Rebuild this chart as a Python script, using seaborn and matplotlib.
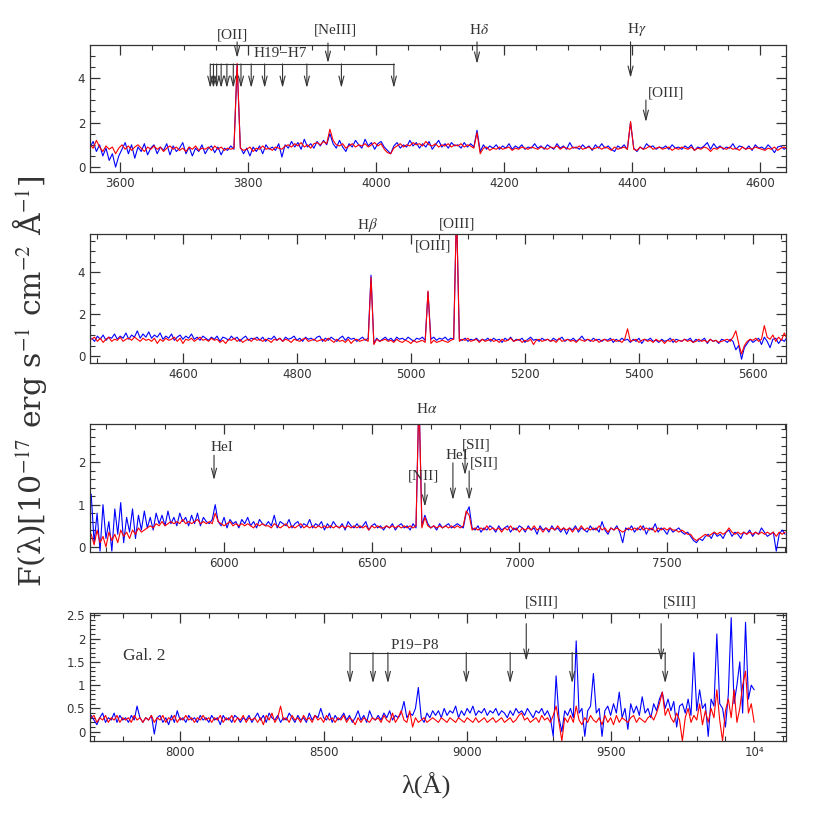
import numpy as np
import matplotlib
matplotlib.use("Agg")
import matplotlib.pyplot as plt
import seaborn as sns
from matplotlib.ticker import MultipleLocator, FuncFormatter

# ---------------- data ----------------
# Panel 1: flux sampled every 5 A starting at 3553 A
p1_start, p1_step = 3553, 5
p1_blue = [
    0.9, 1.15, 0.7, 1.0, 0.5, 0.85, 0.3, 0.6, 0.0, 0.5, 0.8, 1.1, 0.6, 1.0, 0.4, 0.9, 0.7, 1.05, 0.55, 0.85,
    1.0, 0.6, 0.9, 0.75, 1.05, 0.55, 0.95, 0.7, 0.85, 1.1, 0.6, 0.9, 0.5, 0.85, 0.7, 1.0, 0.6, 0.85, 0.95, 0.65,
    0.9, 0.55, 0.85, 0.75, 0.95, 0.8, 4.6, 0.9, 0.6, 0.85, 0.5, 0.9, 0.7, 0.95, 0.6, 1.0, 0.8, 0.9, 0.75, 1.05,
    0.45, 1.0, 0.85, 1.15, 0.9, 1.1, 0.8, 1.25, 0.9, 1.05, 0.85, 1.15, 0.95, 1.2, 1.0, 1.5, 1.05, 0.85, 1.2, 0.9,
    0.7, 1.05, 0.9, 1.2, 1.0, 0.85, 1.25, 0.95, 1.1, 0.8, 1.05, 1.15, 0.9, 0.75, 0.6, 0.95, 1.1, 0.85, 1.0, 0.9,
    1.2, 0.95, 1.1, 0.85, 1.05, 0.9, 1.15, 0.8, 1.0, 1.2, 0.9, 1.05, 0.85, 1.1, 0.95, 1.0, 0.85, 1.1, 0.9, 1.05,
    0.9, 1.65, 0.7, 1.0, 0.8, 0.95, 0.85, 1.0, 0.8, 0.95, 0.85, 1.05, 0.8, 0.95, 0.85, 1.0, 0.8, 0.9, 0.85, 1.05,
    0.85, 0.95, 0.8, 1.0, 0.9, 0.8, 1.05, 0.85, 0.95, 0.8, 1.1, 0.85, 0.9, 0.8, 1.0, 0.85, 0.95, 0.75, 1.0, 0.85,
    1.05, 0.85, 0.95, 0.8, 0.7, 0.95, 0.85, 1.0, 0.8, 2.0, 0.85, 0.7, 0.9, 0.8, 1.05, 0.9, 0.95, 0.8, 0.9, 0.85,
    0.95, 0.8, 1.0, 0.85, 0.9, 0.8, 0.95, 0.85, 1.0, 0.75, 0.9, 0.85, 0.95, 1.1, 0.8, 1.05, 0.85, 0.95, 0.8, 0.9,
    0.85, 1.05, 0.8, 0.95, 0.9, 0.8, 0.95, 0.75, 1.0, 0.85, 0.9, 0.8, 1.0, 0.85, 0.65, 0.9, 0.95, 0.8, 0.9]
p1_red = [
    1.0, 0.85, 1.2, 0.9, 0.7, 0.95, 0.8, 0.9, 0.6, 0.85, 1.0, 0.8, 0.95, 0.75, 0.9, 1.0, 0.85, 0.7, 0.9, 0.8,
    0.95, 0.8, 0.9, 0.7, 0.85, 0.95, 0.8, 0.9, 0.75, 0.85, 0.7, 0.9, 0.8, 0.95, 0.75, 0.85, 0.8, 0.9, 0.75, 0.95,
    0.8, 0.9, 0.75, 0.85, 0.8, 0.85, 4.65, 0.85, 0.75, 0.8, 0.9, 0.7, 0.85, 0.8, 0.95, 0.8, 0.85, 0.75, 0.9, 0.85,
    0.8, 0.95, 1.0, 0.9, 1.05, 0.95, 1.1, 0.9, 1.0, 0.85, 1.05, 1.1, 1.0, 1.15, 1.05, 1.7, 1.2, 1.0, 0.95, 1.05,
    0.85, 0.95, 1.05, 0.9, 1.0, 0.95, 1.05, 0.9, 1.0, 1.1, 0.95, 1.05, 0.8, 0.65, 0.6, 0.85, 0.95, 1.05, 0.9, 1.0,
    0.95, 1.1, 1.0, 1.05, 0.95, 1.15, 1.0, 0.95, 1.05, 0.9, 1.0, 0.95, 1.05, 0.9, 1.0, 0.95, 1.05, 0.9, 1.0, 0.95,
    0.85, 1.55, 0.6, 0.85, 0.9, 0.75, 0.85, 0.8, 0.9, 0.8, 0.85, 0.9, 0.75, 0.85, 0.8, 0.9, 0.85, 0.8, 0.9, 0.85,
    0.8, 0.9, 0.85, 0.8, 0.9, 0.85, 0.95, 0.8, 0.9, 0.85, 0.8, 0.9, 0.85, 0.95, 0.8, 0.85, 0.9, 0.8, 0.85, 0.9,
    0.8, 0.9, 0.85, 0.75, 0.9, 0.8, 0.85, 0.9, 0.8, 2.05, 0.8, 0.75, 0.9, 0.8, 0.85, 0.95, 0.8, 0.85, 0.9, 0.8,
    0.85, 0.9, 0.75, 0.85, 0.8, 0.9, 0.85, 0.8, 0.9, 0.75, 0.85, 0.8, 0.9, 0.85, 0.7, 0.85, 0.8, 0.9, 0.85, 0.8,
    0.9, 0.8, 0.85, 0.75, 0.9, 0.8, 0.85, 0.8, 0.9, 0.85, 0.8, 0.75, 0.85, 0.8, 0.9, 0.75, 0.85, 0.9, 0.8]

# Panel 2: every 5 A starting at 4440 A
p2_start, p2_step = 4440, 5
p2_blue = [
    0.85, 0.7, 0.95, 0.8, 1.0, 0.75, 0.9, 0.85, 1.05, 0.8, 0.95, 0.85, 1.1, 0.8, 1.0, 0.9, 1.2, 0.85, 1.05, 0.9,
    1.15, 0.85, 1.0, 0.9, 1.1, 0.8, 0.95, 0.85, 1.05, 0.75, 0.9, 1.0, 0.8, 0.95, 0.85, 1.05, 0.8, 0.9, 0.75, 0.95,
    0.85, 0.75, 0.9, 0.8, 0.95, 0.7, 0.9, 0.85, 0.75, 0.95, 0.8, 0.9, 0.7, 0.85, 0.95, 0.75, 0.85, 0.8, 0.9, 0.75,
    0.9, 0.7, 0.85, 0.8, 0.95, 0.75, 0.85, 0.7, 0.9, 0.8, 0.85, 0.95, 0.75, 0.85, 0.7, 0.9, 0.8, 0.85, 0.75, 0.9,
    0.95, 0.7, 0.85, 0.75, 0.9, 0.8, 0.7, 0.85, 0.95, 0.75, 0.9, 0.8, 0.85, 0.7, 0.8, 0.9, 0.75, 0.85, 3.85, 0.6,
    0.85, 0.7, 0.8, 0.9, 0.75, 0.85, 0.7, 0.9, 0.8, 0.85, 0.75, 0.9, 0.8, 0.7, 0.85, 0.8, 0.9, 0.75, 3.05, 0.8,
    0.9, 0.75, 0.85, 0.8, 0.9, 0.75, 0.85, 0.8, 7.0, 0.8, 0.75, 0.85, 0.7, 0.8, 0.75, 0.85, 0.7, 0.8, 0.75, 0.85,
    0.7, 0.85, 0.75, 0.8, 0.65, 0.85, 0.75, 0.9, 0.7, 0.8, 0.75, 0.85, 0.65, 0.8, 0.9, 0.75, 0.8, 0.7, 0.85, 0.75,
    0.8, 0.7, 0.85, 0.75, 0.8, 0.9, 0.7, 0.8, 0.75, 0.85, 0.7, 0.8, 0.95, 0.75, 0.8, 0.7, 0.85, 0.75, 0.8, 0.7,
    0.8, 0.75, 0.85, 0.65, 0.8, 0.7, 0.85, 0.75, 0.8, 0.65, 0.8, 0.7, 0.85, 0.6, 0.8, 0.75, 0.85, 0.7, 0.75, 0.65,
    0.8, 0.7, 0.75, 0.85, 0.65, 0.8, 0.75, 0.7, 0.8, 0.75, 0.85, 0.65, 0.8, 0.7, 0.75, 0.85, 0.6, 0.8, 0.7, 0.75,
    0.6, 0.8, 0.75, 0.65, 0.8, 0.7, 0.3, 0.5, -0.15, 0.4, 0.6, 0.8, 0.65, 0.75, 0.85, 0.55, 0.9, 0.7, 0.4, 0.8,
    0.85, 0.6, 0.8, 0.7, 0.9]
p2_red = [
    0.8, 0.9, 0.7, 0.85, 0.65, 0.8, 0.9, 0.7, 0.8, 0.75, 0.9, 0.7, 0.8, 0.85, 0.75, 0.9, 0.8, 0.7, 0.85, 0.75,
    0.8, 0.7, 0.85, 0.6, 0.8, 0.7, 0.85, 0.75, 0.8, 0.9, 0.7, 0.85, 0.6, 0.8, 0.75, 0.85, 0.7, 0.8, 0.9, 0.75,
    0.8, 0.7, 0.85, 0.75, 0.8, 0.65, 0.75, 0.6, 0.8, 0.75, 0.85, 0.7, 0.8, 0.65, 0.75, 0.8, 0.7, 0.85, 0.75, 0.8,
    0.7, 0.8, 0.75, 0.65, 0.8, 0.75, 0.85, 0.7, 0.8, 0.75, 0.65, 0.8, 0.75, 0.7, 0.8, 0.85, 0.7, 0.75, 0.8, 0.7,
    0.75, 0.8, 0.7, 0.85, 0.75, 0.65, 0.8, 0.7, 0.75, 0.65, 0.8, 0.6, 0.75, 0.8, 0.7, 0.75, 0.8, 0.7, 3.75, 0.55,
    0.8, 0.7, 0.75, 0.8, 0.7, 0.75, 0.65, 0.8, 0.7, 0.65, 0.75, 0.7, 0.6, 0.75, 0.65, 0.7, 0.75, 0.65, 3.1, 0.6,
    0.75, 0.65, 0.7, 0.75, 0.7, 0.65, 0.75, 0.8, 7.0, 0.7, 0.8, 0.75, 0.85, 0.7, 0.75, 0.8, 0.65, 0.8, 0.7, 0.75,
    0.8, 0.7, 0.75, 0.65, 0.8, 0.7, 0.75, 0.85, 0.7, 0.75, 0.8, 0.65, 0.75, 0.7, 0.8, 0.55, 0.75, 0.8, 0.7, 0.75,
    0.8, 0.7, 0.75, 0.65, 0.85, 0.7, 0.75, 0.8, 0.7, 0.75, 0.65, 0.8, 0.75, 0.7, 0.8, 0.75, 0.7, 0.8, 0.65, 0.75,
    0.8, 0.7, 0.75, 0.8, 0.7, 0.75, 0.65, 0.8, 1.3, 0.7, 0.75, 0.8, 0.65, 0.75, 0.8, 0.7, 0.75, 0.65, 0.8, 0.7,
    0.75, 0.6, 0.75, 0.7, 0.8, 0.65, 0.75, 0.7, 0.8, 0.7, 0.75, 0.65, 0.7, 0.8, 0.7, 0.75, 0.65, 0.8, 0.7, 0.75,
    0.65, 0.7, 0.75, 0.8, 0.7, 0.9, 1.2, 0.6, 0.1, 0.5, 0.7, 0.8, 0.75, 0.85, 0.7, 0.8, 1.45, 0.9, 0.8, 1.0,
    0.7, 0.9, 0.75, 1.1, 0.8]

# Panel 3: every 10 A starting at 5550 A
p3_start, p3_step = 5550, 10
p3_blue = [
    1.25, 0.1, 0.8, -0.1, 1.0, 0.2, 0.6, -0.1, 0.9, 0.3, 1.05, 0.1, 0.7, 0.35, 0.9, 0.2, 0.75, 0.4, 0.85, 0.45,
    0.7, 0.4, 0.8, 0.55, 0.75, 0.5, 0.85, 0.55, 0.7, 0.5, 0.8, 0.6, 0.7, 0.5, 0.75, 0.55, 0.8, 0.5, 0.7, 0.6,
    0.55, 0.65, 1.0, 0.6, 0.5, 0.7, 0.45, 0.65, 0.55, 0.6, 0.45, 0.65, 0.55, 0.7, 0.5, 0.6, 0.45, 0.65, 0.55, 0.5,
    0.6, 0.5, 0.75, 0.45, 0.6, 0.55, 0.5, 0.65, 0.45, 0.55, 0.6, 0.45, 0.55, 0.5, 0.65, 0.45, 0.55, 0.5, 0.6, 0.4,
    0.55, 0.45, 0.6, 0.5, 0.45, 0.55, 0.4, 0.6, 0.5, 0.45, 0.55, 0.45, 0.5, 0.6, 0.4, 0.5, 0.55, 0.45, 0.5, 0.4,
    0.5, 0.45, 0.55, 0.4, 0.5, 0.55, 0.45, 0.5, 0.4, 0.55, 0.45, 3.6, 0.5, 0.75, 0.55, 0.45, 0.5, 0.4, 0.55, 0.45,
    0.5, 0.55, 0.45, 0.5, 0.55, 0.5, 0.45, 0.8, 0.95, 0.45, 0.4, 0.5, 0.35, 0.45, 0.4, 0.5, 0.45, 0.35, 0.5, 0.4,
    0.45, 0.5, 0.35, 0.45, 0.4, 0.5, 0.45, 0.35, 0.5, 0.4, 0.45, 0.3, 0.5, 0.4, 0.45, 0.35, 0.5, 0.4, 0.45, 0.35,
    0.45, 0.3, 0.45, 0.4, 0.5, 0.35, 0.45, 0.4, 0.35, 0.5, 0.4, 0.45, 0.35, 0.6, 0.4, 0.3, 0.45, 0.4, 0.5, 0.35,
    0.1, 0.45, 0.4, 0.5, 0.35, 0.45, 0.4, 0.5, 0.3, 0.45, 0.4, 0.55, 0.35, 0.45, 0.4, 0.3, 0.45, 0.35, 0.4, 0.45,
    0.35, 0.3, 0.35, 0.25, 0.15, 0.1, 0.2, 0.15, 0.25, 0.3, 0.2, 0.35, 0.25, 0.3, 0.2, 0.35, 0.4, 0.25, 0.35, 0.3,
    0.2, 0.35, 0.3, 0.4, 0.25, 0.35, 0.3, 0.45, 0.35, 0.25, 0.3, 0.35, -0.1, 0.3, 0.4, 0.3]
p3_red = [
    0.3, 0.05, 0.4, 0.1, 0.25, 0.0, 0.35, 0.15, 0.3, 0.1, 0.4, 0.25, 0.35, 0.2, 0.4, 0.3, 0.45, 0.35, 0.4, 0.45,
    0.5, 0.45, 0.55, 0.5, 0.6, 0.5, 0.55, 0.6, 0.55, 0.6, 0.55, 0.65, 0.55, 0.6, 0.55, 0.6, 0.65, 0.55, 0.6, 0.55,
    0.6, 0.55, 0.8, 0.6, 0.55, 0.5, 0.55, 0.6, 0.5, 0.55, 0.5, 0.55, 0.5, 0.55, 0.5, 0.45, 0.55, 0.5, 0.55, 0.5,
    0.5, 0.45, 0.55, 0.5, 0.45, 0.5, 0.55, 0.45, 0.5, 0.45, 0.5, 0.55, 0.45, 0.5, 0.45, 0.5, 0.45, 0.5, 0.45, 0.5,
    0.45, 0.5, 0.45, 0.5, 0.45, 0.5, 0.45, 0.5, 0.45, 0.5, 0.45, 0.5, 0.45, 0.5, 0.4, 0.5, 0.45, 0.5, 0.45, 0.45,
    0.5, 0.45, 0.5, 0.45, 0.5, 0.45, 0.5, 0.45, 0.5, 0.45, 0.5, 3.6, 0.45, 0.7, 0.5, 0.45, 0.5, 0.45, 0.5, 0.45,
    0.5, 0.45, 0.5, 0.45, 0.5, 0.45, 0.5, 0.85, 0.75, 0.4, 0.45, 0.4, 0.45, 0.4, 0.5, 0.4, 0.45, 0.4, 0.45, 0.35,
    0.45, 0.4, 0.5, 0.4, 0.45, 0.35, 0.45, 0.4, 0.45, 0.4, 0.5, 0.4, 0.45, 0.35, 0.45, 0.4, 0.45, 0.4, 0.5, 0.4,
    0.45, 0.4, 0.45, 0.35, 0.45, 0.4, 0.5, 0.4, 0.45, 0.4, 0.45, 0.4, 0.5, 0.4, 0.45, 0.35, 0.45, 0.4, 0.45, 0.4,
    0.35, 0.4, 0.45, 0.4, 0.45, 0.4, 0.5, 0.4, 0.45, 0.4, 0.45, 0.35, 0.45, 0.4, 0.45, 0.4, 0.45, 0.4, 0.4, 0.35,
    0.4, 0.35, 0.3, 0.3, 0.2, 0.15, 0.2, 0.25, 0.3, 0.25, 0.3, 0.35, 0.3, 0.35, 0.3, 0.35, 0.45, 0.35, 0.3, 0.35,
    0.3, 0.35, 0.3, 0.35, 0.3, 0.35, 0.3, 0.35, 0.3, 0.35, 0.3, 0.35, 0.25, 0.35, 0.3, 0.35]

# Panel 4: every 10 A starting at 7690 A
p4_start, p4_step = 7690, 10
p4_blue = [
    0.35, 0.25, 0.15, 0.3, 0.4, 0.2, 0.3, 0.25, 0.4, 0.2, 0.35, 0.25, 0.3, 0.2, 0.35, 0.25, 0.55, 0.3, 0.2, 0.3,
    0.25, 0.35, -0.05, 0.3, 0.35, 0.2, 0.3, 0.15, 0.35, 0.2, 0.45, 0.25, 0.3, 0.2, 0.35, 0.25, 0.3, 0.2, 0.35, 0.25,
    0.3, 0.2, 0.35, 0.25, 0.3, 0.15, 0.35, 0.25, 0.3, 0.2, 0.35, 0.3, 0.2, 0.3, 0.25, 0.35, 0.2, 0.3, 0.4, 0.25,
    0.35, 0.2, 0.4, 0.3, 0.25, 0.35, 0.2, 0.3, 0.25, 0.4, 0.3, 0.2, 0.35, 0.25, 0.3, 0.2, 0.4, 0.25, 0.35, 0.3,
    0.5, 0.3, 0.25, 0.4, 0.2, 0.35, 0.25, 0.3, 0.4, 0.25, 0.35, 0.2, 0.3, 0.45, 0.25, 0.35, 0.2, 0.45, 0.3, 0.25,
    0.35, 0.25, 0.4, 0.3, 0.45, 0.25, 0.35, 0.3, 0.4, 0.65, 0.3, 0.4, 0.35, 0.5, 0.95, 0.3, 0.2, 0.4, 0.3, 0.45,
    0.35, 0.45, 0.3, 0.5, 0.35, 0.45, 0.4, 0.55, 0.3, 0.45, 0.35, 0.5, 0.4, 0.55, 0.35, 0.45, 0.4, 0.5, 0.35, 0.45,
    0.4, 0.5, 0.35, 0.45, 0.4, 0.3, 0.45, 0.35, 0.5, 0.4, 0.45, 0.35, 0.5, 0.4, 0.3, 0.45, 0.4, 0.5, 0.35, 0.45,
    0.3, -0.1, 1.2, 0.3, 0.0, 0.45, 0.35, 0.5, 0.3, 1.95, 0.4, 0.5, -0.1, 0.45, 0.55, 1.25, 0.4, 0.5, -0.1, 0.45,
    0.55, 0.35, 0.6, 0.4, 0.85, 0.3, 0.5, 0.05, 0.6, 0.4, 0.55, 0.35, 0.75, 0.4, 0.5, 0.3, 0.6, 0.45, 0.7, 0.85,
    0.5, 0.7, 0.45, 0.65, 0.1, 0.55, 0.6, 0.4, 0.7, 0.35, 1.7, 0.45, 0.9, 0.5, 0.6, -0.1, 0.7, 0.55, 2.1, 0.6,
    0.5, 0.1, 0.8, 2.45, 0.6, 1.0, 1.5, 0.4, 2.35, 0.7, 1.0, 0.9]
p4_red = [
    0.3, 0.35, 0.2, 0.3, 0.25, 0.35, 0.2, 0.3, 0.25, 0.35, 0.2, 0.3, 0.25, 0.3, 0.2, 0.35, 0.25, 0.3, 0.2, 0.3,
    0.25, 0.35, 0.2, 0.3, 0.25, 0.35, 0.2, 0.3, 0.25, 0.35, 0.2, 0.3, 0.25, 0.35, 0.25, 0.3, 0.2, 0.3, 0.25, 0.35,
    0.25, 0.3, 0.2, 0.3, 0.25, 0.35, 0.2, 0.3, 0.25, 0.35, 0.2, 0.3, 0.25, 0.35, 0.2, 0.3, 0.25, 0.3, 0.2, 0.3,
    0.15, 0.35, 0.25, 0.4, 0.2, 0.3, 0.55, 0.25, 0.3, 0.2, 0.35, 0.25, 0.3, 0.2, 0.35, 0.25, 0.3, 0.2, 0.35, 0.25,
    0.3, 0.2, 0.35, 0.25, 0.3, 0.2, 0.3, 0.25, 0.35, 0.2, 0.3, 0.25, 0.15, 0.3, 0.2, 0.3, 0.25, 0.2, 0.3, 0.25,
    0.3, 0.2, 0.35, 0.25, 0.2, 0.4, 0.2, 0.3, 0.45, 0.25, 0.2, 0.45, 0.1, 0.3, 0.2, 0.25, 0.3, 0.2, 0.25, 0.3,
    0.25, 0.2, 0.3, 0.25, 0.2, 0.3, 0.25, 0.2, 0.3, 0.25, 0.2, 0.3, 0.25, 0.2, 0.3, 0.2, 0.25, 0.3, 0.2, 0.25,
    0.3, 0.2, 0.25, 0.3, 0.2, 0.25, 0.3, 0.2, 0.25, 0.35, 0.4, 0.25, 0.3, 0.2, 0.25, 0.3, 0.2, 0.35, 0.25, 0.3,
    0.2, 0.35, 0.55, 0.2, -0.2, 0.3, 0.2, 0.35, 0.2, 0.55, 0.25, 0.15, 0.3, 0.2, 0.35, 0.25, 0.2, 0.3, 0.15, 0.35,
    0.2, 0.3, 0.15, 0.35, 0.2, 0.3, 0.25, 0.2, 0.3, 0.35, 0.2, 0.3, 0.25, 0.2, 0.3, 0.35, 0.25, 0.4, 0.6, 0.85,
    0.35, 0.5, 0.3, 0.2, 0.4, 0.25, -0.2, 0.3, 0.5, 0.2, 0.35, 0.25, 0.6, 0.15, 0.45, 0.2, 0.5, 0.3, 0.9, 0.25,
    -0.2, 0.45, 0.7, 0.3, 0.9, 0.2, 0.5, 1.0, 1.3, 0.4, 0.6, 0.2]

# axis limits and ticks
xlims = [(3553, 4641), (4437, 5658), (5546, 7903), (7686, 10111)]
ylims = [(-0.22, 5.48), (-0.33, 5.81), (-0.12, 2.91), (-0.2, 2.55)]
xmajor = [200, 200, 500, 500]
xminor = [50, 50, 100, 100]
ymajor = [2, 2, 1, 0.5]
yminor = [0.5, 0.5, 0.2, 0.1]

# ---------------- style ----------------
sns.set_theme(style="ticks")
plt.rcParams["font.family"] = ["Liberation Serif", "DejaVu Serif"]
plt.rcParams["mathtext.fontset"] = "stix"
INK = "#333333"

fig = plt.figure(figsize=(8.3, 8.3), dpi=100)
left, width = 90 / 830, 696 / 830
boxes = [(45, 172), (234, 363), (424, 552), (613, 741)]
axes = [fig.add_axes([left, 1 - b / 830, width, (b - t) / 830]) for t, b in boxes]

panels = [
    (p1_start, p1_step, p1_blue, p1_red),
    (p2_start, p2_step, p2_blue, p2_red),
    (p3_start, p3_step, p3_blue, p3_red),
    (p4_start, p4_step, p4_blue, p4_red),
]

for i, (ax, (s, st, fb, fr)) in enumerate(zip(axes, panels)):
    wb = s + st * np.arange(len(fb))
    wr = s + st * np.arange(len(fr))
    sns.lineplot(x=wb, y=fb, ax=ax, color="#0000ff", linewidth=0.8, sort=False, estimator=None)
    sns.lineplot(x=wr, y=fr, ax=ax, color="#ff0000", linewidth=0.8, sort=False, estimator=None)
    ax.set_xlim(*xlims[i])
    ax.set_ylim(*ylims[i])
    ax.xaxis.set_major_locator(MultipleLocator(xmajor[i]))
    ax.xaxis.set_minor_locator(MultipleLocator(xminor[i]))
    ax.yaxis.set_major_locator(MultipleLocator(ymajor[i]))
    ax.yaxis.set_minor_locator(MultipleLocator(yminor[i]))
    ax.tick_params(which="both", direction="in", top=True, right=True, colors=INK,
                   labelsize=8.5, labelfontfamily="DejaVu Sans")
    ax.tick_params(which="major", length=7, width=0.9)
    ax.tick_params(which="minor", length=3.5, width=0.8)
    for sp in ax.spines.values():
        sp.set_color(INK)
        sp.set_linewidth(0.9)
    ax.set_xlabel("")
    ax.set_ylabel("")

axes[3].xaxis.set_major_formatter(FuncFormatter(lambda v, p: "10⁴" if abs(v - 10000) < 1 else f"{v:.0f}"))
axes[3].yaxis.set_major_formatter(FuncFormatter(lambda v, p: f"{v:g}"))

ARW = dict(arrowstyle="->,head_length=0.7,head_width=0.18", color=INK, lw=0.8,
           shrinkA=0, shrinkB=0, mutation_scale=10)


def arrow(ax, x, y0, y1):
    ax.annotate("", xy=(x, y1), xytext=(x, y0), arrowprops=ARW, annotation_clip=False)


def label(ax, x, y, s, size=11, ha="center"):
    ax.text(x, y, s, ha=ha, va="center", fontsize=size, color=INK, clip_on=False)


# panel 1 annotations
a = axes[0]
label(a, 3775, 5.93, "[OII]"); arrow(a, 3783, 5.62, 4.9)
label(a, 3936, 6.16, "[NeIII]"); arrow(a, 3925, 5.57, 4.67)
label(a, 4161, 6.16, r"H$\delta$"); arrow(a, 4158, 5.62, 4.63)
label(a, 4408, 6.16, r"H$\gamma$"); arrow(a, 4398, 5.62, 4.0)
label(a, 4453, 3.33, "[OIII]"); arrow(a, 4422, 3.01, 2.02)
h_series = [3741, 3746, 3751, 3758, 3767, 3777, 3789, 3805, 3826, 3854, 3892, 3946, 4028]
a.plot([h_series[0], h_series[-1]], [4.63, 4.63], color=INK, lw=0.8)
for x in h_series:
    arrow(a, x, 4.63, 3.55)
label(a, 3850, 5.08, "H19−H7")

# panel 2
a = axes[1]
label(a, 4923, 6.24, r"H$\beta$")
label(a, 5039, 5.24, "[OIII]")
label(a, 5081, 6.29, "[OIII]")

# panel 3
a = axes[2]
label(a, 5993, 2.36, "HeI"); arrow(a, 5966, 2.17, 1.58)
label(a, 6687, 3.26, r"H$\alpha$")
label(a, 6674, 1.68, "[NII]"); arrow(a, 6680, 1.51, 0.95)
label(a, 6789, 2.17, "HeI"); arrow(a, 6775, 1.99, 1.11)
label(a, 6853, 2.41, "[SII]"); arrow(a, 6816, 2.29, 1.70)
label(a, 6880, 1.99, "[SII]"); arrow(a, 6830, 1.80, 1.11)

# panel 4
a = axes[3]
label(a, 7801, 1.62, "Gal. 2", size=12.5, ha="left")
p_series = [8592, 8672, 8724, 8997, 9150, 9366, 9690]
a.plot([p_series[0], p_series[-1]], [1.70, 1.70], color=INK, lw=0.8)
for x in p_series:
    arrow(a, x, 1.70, 1.04)
label(a, 8819, 1.86, "P19−P8")
label(a, 9261, 2.79, "[SIII]"); arrow(a, 9206, 2.32, 1.52)
label(a, 9742, 2.79, "[SIII]"); arrow(a, 9676, 2.32, 1.52)

fig.text(30 / 830, 1 - 381 / 830, r"F(λ)[10$^{-17}$ erg s$^{-1}$ cm$^{-2}$ Å$^{-1}$]",
         rotation=90, ha="center", va="center", fontsize=21.5, color=INK, family="DejaVu Serif")
fig.text(426 / 830, 1 - 786 / 830, "λ(Å)", ha="center", va="center", fontsize=19, color=INK)

fig.savefig("out.png", dpi=100)
